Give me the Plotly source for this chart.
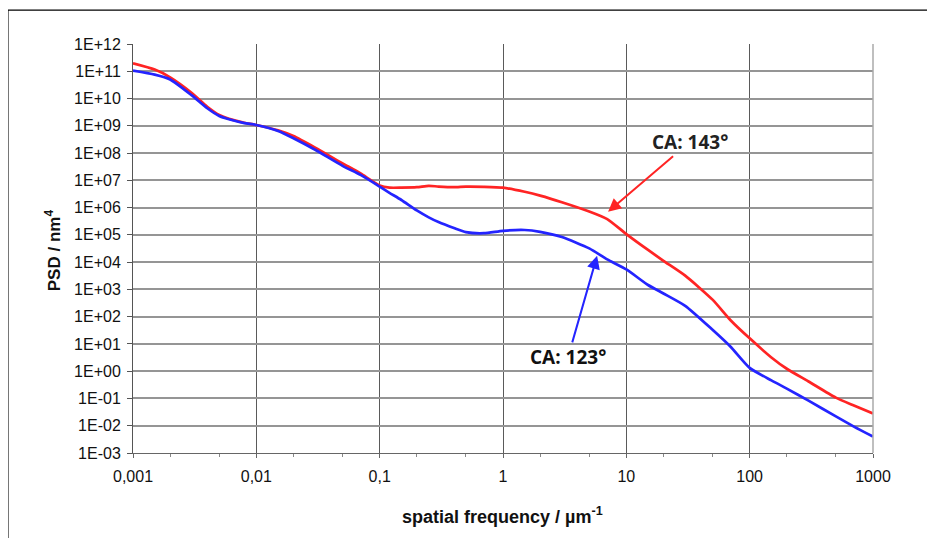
import plotly.graph_objects as go

# ---- data ----
freq = [0.001, 0.0015, 0.002, 0.003, 0.004, 0.005, 0.006, 0.008, 0.01, 0.015,
        0.02, 0.03, 0.05, 0.07, 0.1, 0.12, 0.15, 0.2, 0.25, 0.3,
        0.4, 0.5, 0.7, 1, 1.5, 2, 3, 5, 7, 10,
        15, 20, 30, 50, 70, 100, 150, 200, 300, 500,
        700, 1000]

psd_ca143 = [1.95e11, 1.15e11, 6.0e10, 1.6e10, 5.0e9, 2.5e9, 1.8e9, 1.29e9, 1.07e9, 6.8e8,
             4.2e8, 1.58e8, 4.2e7, 1.78e7, 6.5e6, 5.4e6, 5.4e6, 5.6e6, 6.3e6, 5.9e6,
             5.6e6, 5.9e6, 5.8e6, 5.4e6, 3.8e6, 2.75e6, 1.58e6, 7.2e5, 3.8e5, 1.07e5,
             2.8e4, 1.12e4, 3.2e3, 4.2e2, 74, 16, 3.2, 1.23, 0.42, 0.107,
             0.055, 0.028]

psd_ca123 = [1.05e11, 7.5e10, 5.0e10, 1.3e10, 4.4e9, 2.3e9, 1.74e9, 1.26e9, 1.07e9, 6.5e8,
             3.5e8, 1.32e8, 3.4e7, 1.58e7, 5.9e6, 3.5e6, 1.9e6, 7.9e5, 4.4e5, 2.95e5,
             1.78e5, 1.26e5, 1.15e5, 1.41e5, 1.51e5, 1.29e5, 8.3e4, 3.2e4, 1.26e4, 5.4e3,
             1.45e3, 7.1e2, 2.5e2, 33, 7.9, 1.32, 0.46, 0.23, 0.083, 0.022,
             0.0093, 0.004]

x_tickvals = [0.001, 0.01, 0.1, 1, 10, 100, 1000]
x_ticktext = ["0,001", "0,01", "0,1", "1", "10", "100", "1000"]

y_tickvals = [1e-3, 1e-2, 1e-1, 1e0, 1e1, 1e2, 1e3, 1e4, 1e5, 1e6, 1e7, 1e8, 1e9, 1e10, 1e11, 1e12]
y_ticktext = ["1E-03", "1E-02", "1E-01", "1E+00", "1E+01", "1E+02", "1E+03", "1E+04",
              "1E+05", "1E+06", "1E+07", "1E+08", "1E+09", "1E+10", "1E+11", "1E+12"]

label_143 = "CA: 143°"
label_123 = "CA: 123°"

RED = "#ff2424"
BLUE = "#2424ff"
FONT = "Liberation Sans, Arial, sans-serif"

fig = go.Figure()
fig.add_trace(go.Scatter(x=freq, y=psd_ca143, mode="lines", name=label_143,
                         line=dict(color=RED, width=2.7, shape="spline", smoothing=0.6)))
fig.add_trace(go.Scatter(x=freq, y=psd_ca123, mode="lines", name=label_123,
                         line=dict(color=BLUE, width=2.7, shape="spline", smoothing=0.6)))

fig.update_layout(
    width=935, height=538,
    margin=dict(l=125, r=70, t=36, b=93),
    paper_bgcolor="white", plot_bgcolor="white",
    showlegend=False,
    xaxis=dict(type="log", range=[-3, 3], tickvals=x_tickvals, ticktext=x_ticktext,
               showgrid=True, gridcolor="#5a5a5a", gridwidth=1,
               showline=True, linecolor="#666", linewidth=1,
               ticks="outside", ticklen=4, tickcolor="#666",
               minor=dict(ticks="outside", ticklen=3, tickcolor="#888", showgrid=False),
               tickfont=dict(family=FONT, size=16, color="#111"),
               ticklabelstandoff=5, zeroline=False),
    yaxis=dict(type="log", range=[-3, 12], tickvals=y_tickvals, ticktext=y_ticktext,
               showgrid=True, gridcolor="#959595", gridwidth=1.5,
               showline=True, linecolor="#555", linewidth=1,
               ticks="outside", ticklen=5, tickcolor="#555",
               minor=dict(ticks="outside", ticklen=3, tickcolor="#777", showgrid=False),
               tickfont=dict(family=FONT, size=16, color="#111"),
               ticklabelstandoff=3, zeroline=False),
)

# right plot border
fig.add_shape(type="line", xref="paper", yref="paper", x0=1, x1=1, y0=0, y1=1,
              line=dict(color="#aaaaaa", width=1.5))
# outer picture frame (top and left)
fig.add_shape(type="line", xref="paper", yref="paper", x0=-0.169, x1=1.2, y0=1.083, y1=1.083,
              line=dict(color="black", width=1.2))
fig.add_shape(type="line", xref="paper", yref="paper", x0=-0.169, x1=-0.169, y0=1.083, y1=-0.3,
              line=dict(color="black", width=1.2))

# axis titles
fig.add_annotation(xref="paper", yref="paper", x=-0.108, y=0.496, textangle=-90,
                   xanchor="center", yanchor="middle",
                   text="<b>PSD / nm<sup>4</sup></b>", showarrow=False,
                   font=dict(family=FONT, size=17, color="#111"))
fig.add_annotation(xref="paper", yref="paper", x=0.499, y=-0.154,
                   xanchor="center", yanchor="middle",
                   text="<b>spatial frequency / µm<sup>-1</sup></b>", showarrow=False,
                   font=dict(family=FONT, size=18, color="#111"))

# labelled arrows (text sits at the arrow tail)
fig.add_annotation(x=0.852, y=5.85, xref="x", yref="y", ax=82, ay=-70,
                   text="<b>" + label_143 + "</b>",
                   font=dict(family="Open Sans, sans-serif", size=19, color="#222"),
                   showarrow=True, arrowhead=2, arrowsize=1.3, arrowwidth=2, arrowcolor=RED)
fig.add_annotation(x=0.763, y=4.23, xref="x", yref="y", ax=-29, ay=101,
                   text="<b>" + label_123 + "</b>",
                   font=dict(family="Open Sans, sans-serif", size=19, color="#111"),
                   showarrow=True, arrowhead=2, arrowsize=1.3, arrowwidth=2, arrowcolor=BLUE)

fig.write_html("out.html")
